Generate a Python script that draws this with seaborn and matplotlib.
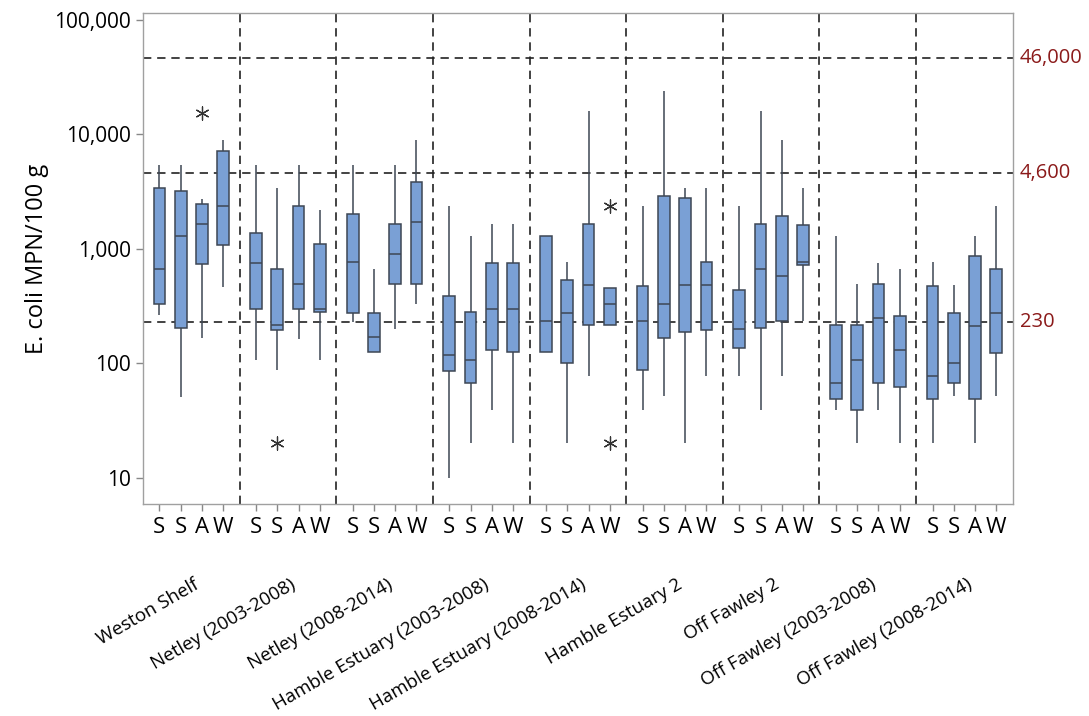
import numpy as np
import pandas as pd
import matplotlib
matplotlib.use("Agg")
import matplotlib.pyplot as plt
import seaborn as sns
from matplotlib.ticker import FixedLocator, FuncFormatter, NullLocator

# sites and seasons
sites = ['Weston Shelf', 'Netley (2003-2008)', 'Netley (2008-2014)',
         'Hamble Estuary (2003-2008)', 'Hamble Estuary (2008-2014)',
         'Hamble Estuary 2', 'Off Fawley 2', 'Off Fawley (2003-2008)',
         'Off Fawley (2008-2014)']
seasons = ['Spring', 'Summer', 'Autumn', 'Winter']
season_ticks = ['S', 'S', 'A', 'W']

# five number summaries, one entry per site/season (site major order)
lows = [262, 51, 166, 466,
        107, 87, 162, 107,
        230, 125, 200, 327,
        10, 20, 39, 20,
        126, 20, 77, 218,
        39, 52, 20, 77,
        77, 39, 77, 233,
        39, 20, 39, 20,
        20, 52, 20, 52]
q1s = [331, 203, 740, 1090,
       299, 197, 301, 280,
       274, 125, 494, 489,
       86, 68, 131, 126,
       126, 100, 218, 218,
       88, 168, 187, 197,
       136, 204, 233, 720,
       49, 39, 68, 62,
       49, 68, 49, 122]
medians = [673, 1290, 1660, 2390,
           745, 215, 494, 301,
           765, 169, 904, 1720,
           119, 108, 301, 301,
           235, 274, 479, 333,
           235, 333, 479, 479,
           199, 673, 577, 765,
           68, 108, 249, 131,
           78, 100, 211, 276]
q3s = [3390, 3190, 2455, 7130,
       1370, 673, 2375, 1098,
       2020, 274, 1660, 3845,
       386, 282, 745, 745,
       1290, 536, 1660, 456,
       472, 2880, 2775, 770,
       441, 1660, 1930, 1610,
       217, 217, 494, 257,
       472, 274, 863, 673]
highs = [5350, 5350, 2735, 8900,
         5350, 3410, 5350, 2180,
         5350, 673, 5350, 8900,
         2390, 1307, 1664, 1664,
         1290, 770, 15900, 456,
         2390, 23800, 3410, 3410,
         2390, 15900, 9000, 3410,
         1307, 494, 745, 673,
         770, 482, 1307, 2390]

# outliers (asterisks)
out_site = [0, 1, 4, 4]
out_season = [2, 1, 3, 3]
out_value = [15400, 20, 2360, 20]

# reference lines
ref_levels = [230, 4600, 46000]
ref_labels = ['230', '4,600', '46,000']

rows = []
for i in range(len(sites)):
    for j in range(len(seasons)):
        k = i * len(seasons) + j
        for v in (lows[k], q1s[k], medians[k], q3s[k], highs[k]):
            rows.append((sites[i], seasons[j], v))
df = pd.DataFrame(rows, columns=['site', 'season', 'value'])

sns.set_theme(style='white')
plt.rcParams['font.family'] = ['Open Sans', 'DejaVu Sans']
plt.rcParams['text.color'] = 'black'
plt.rcParams['axes.labelcolor'] = 'black'
plt.rcParams['xtick.color'] = 'black'
plt.rcParams['ytick.color'] = 'black'

fig = plt.figure(figsize=(10.89, 7.16), dpi=100)
ax = fig.add_axes([0.1313, 0.296, 0.7987, 0.686])

box_width = 0.88
fill = '#7aa0d5'
edge = '#3d4654'
sns.boxplot(data=df, x='site', y='value', hue='season', order=sites,
            hue_order=seasons, palette=[fill] * 4, saturation=1,
            width=box_width, gap=0.45,
            whis=(0, 100), linecolor=edge, linewidth=1.1, showfliers=False,
            log_scale=True, legend=False, ax=ax,
            capprops={'visible': False})

step = box_width / len(seasons)
offsets = np.array([step * j - box_width / 2 + step / 2 for j in range(len(seasons))])

ax.scatter(np.array(out_site) + offsets[out_season], out_value,
           marker=(6, 2, 0), s=90, color='#333333', linewidths=0.9, zorder=5)

ax.set_ylim(5.9, 115000)
ax.set_xlim(-0.5, len(sites) - 0.5)

# reference lines
for lvl, lab in zip(ref_levels, ref_labels):
    ax.axhline(lvl, color='#222222', lw=1.2, ls=(0, (5, 3.5)), zorder=1)
    ax.text(1.008, lvl, lab, transform=ax.get_yaxis_transform(),
            color='#8b1a1a', fontsize=14.5, va='center', ha='left')
for i in range(len(sites) - 1):
    ax.axvline(i + 0.5, color='#222222', lw=1.2, ls=(0, (5, 3.5)), zorder=1)

# y axis
ax.yaxis.set_major_locator(FixedLocator([10, 100, 1000, 10000, 100000]))
ax.yaxis.set_minor_locator(NullLocator())
ax.yaxis.set_major_formatter(FuncFormatter(lambda v, p: f'{int(round(v)):,}'))
ax.set_ylabel('E. coli MPN/100 g', fontsize=17, labelpad=4)

# x axis: season ticks, site labels below
positions = [i + o for i in range(len(sites)) for o in offsets]
ax.set_xticks(positions)
ax.set_xticklabels(season_ticks * len(sites), fontsize=15)
ax.set_xlabel('')
for i, name in enumerate(sites):
    ax.text(i + 0.02, -0.145, name, transform=ax.get_xaxis_transform(),
            rotation=30, rotation_mode='anchor', ha='right', va='top',
            fontsize=13.5)

ax.tick_params(axis='both', which='major', direction='out', length=5,
               width=1, color='#888888', labelsize=15)
ax.tick_params(axis='x', labelsize=16, pad=4)
ax.tick_params(left=True, bottom=True)
for s in ax.spines.values():
    s.set_color('#a0a0a0')
    s.set_linewidth(1)

fig.savefig('out.png', dpi=100)
